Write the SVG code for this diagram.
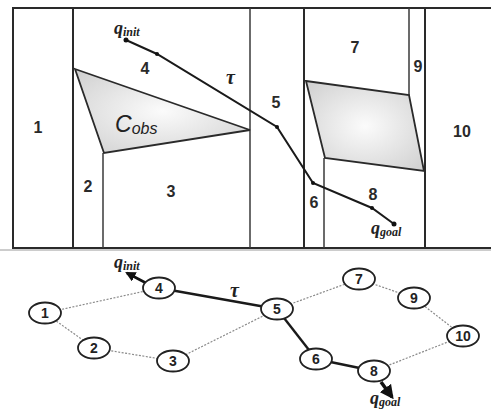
<svg xmlns="http://www.w3.org/2000/svg" width="491" height="410" viewBox="0 0 491 410">
  <defs>
    <style>
      .wall { stroke: #2a2a2a; stroke-width: 2; fill: none; }
      .thin { stroke: #3a3a3a; stroke-width: 1.5; fill: none; }
      .obst { fill: url(#shade); stroke: #2a2a2a; stroke-width: 1.8; }
      .lbl { font-family: "Liberation Sans", Arial, sans-serif; font-size: 16px; font-weight: bold; fill: #2a2a2a; text-anchor: middle; }
      .nlbl { font-family: "Liberation Sans", Arial, sans-serif; font-size: 14px; font-weight: bold; fill: #222; text-anchor: middle; }
      .q { font-family: "Liberation Serif", "Times New Roman", serif; font-style: italic; font-weight: bold; fill: #222; }
      .path { stroke: #1a1a1a; stroke-width: 2; fill: none; }
      .dot { fill: #111; }
      .node ellipse { fill: #fff; stroke: #222; stroke-width: 1.8; }
      .dotted { stroke: #8a8a8a; stroke-width: 1.2; stroke-dasharray: 2 1.5; fill: none; }
      .solid { stroke: #1a1a1a; stroke-width: 2.4; fill: none; }
    </style>
    <radialGradient id="shade" cx="0.5" cy="0.5" r="0.65">
      <stop offset="0" stop-color="#fbfbfb"/>
      <stop offset="1" stop-color="#d2d2d2"/>
    </radialGradient>
    <marker id="tip" viewBox="0 0 10 10" refX="8" refY="5" markerWidth="4" markerHeight="4" orient="auto">
      <path d="M0,0 L10,5 L0,10 z" fill="#111"/>
    </marker>
  </defs>

  <!-- configuration space with cell decomposition -->
  <g id="workspace">
    <path class="wall" d="M491,8 L13,8 L13,248 L491,248"/>
    <line class="wall" x1="73" y1="8" x2="73" y2="248"/>
    <line class="thin" x1="103" y1="153" x2="103" y2="248"/>
    <line class="thin" x1="250" y1="8" x2="250" y2="248"/>
    <line class="wall" x1="304" y1="8" x2="304" y2="248"/>
    <line class="thin" x1="324" y1="158" x2="324" y2="248"/>
    <line class="thin" x1="409" y1="8" x2="409" y2="95"/>
    <line class="wall" x1="425" y1="8" x2="425" y2="248" stroke-width="2.6"/>

    <polygon class="obst" points="75,69 250,130 104,153"/>
    <polygon class="obst" points="306,81 409,95 424,171 325,158"/>

    <text class="lbl" x="38" y="133">1</text>
    <text class="lbl" x="88" y="192">2</text>
    <text class="lbl" x="171" y="197">3</text>
    <text class="lbl" x="145" y="74">4</text>
    <text class="lbl" x="276" y="108">5</text>
    <text class="lbl" x="314" y="208">6</text>
    <text class="lbl" x="355" y="53">7</text>
    <text class="lbl" x="373" y="200">8</text>
    <text class="lbl" x="418" y="72">9</text>
    <text class="lbl" x="462" y="137">10</text>

    <text x="115" y="132" font-family="Liberation Sans, Arial, sans-serif" font-style="italic" font-size="23" fill="#222">C<tspan font-size="16" dy="2">obs</tspan></text>
    <text class="q" x="226" y="84" font-size="20">τ</text>
    <text class="q" x="114" y="34" font-size="18">q<tspan font-size="12" dy="2">init</tspan></text>
    <text class="q" x="371" y="234" font-size="18">q<tspan font-size="12" dy="2">goal</tspan></text>
  </g>

  <!-- solution path through the free cells -->
  <g id="path">
    <polyline class="path" points="126,40 157,54 277,127 313,183 372,208 394,224"/>
    <circle class="dot" cx="126" cy="40" r="2.5"/>
    <circle class="dot" cx="157" cy="54" r="2"/>
    <circle class="dot" cx="277" cy="127" r="2"/>
    <circle class="dot" cx="313" cy="183" r="2"/>
    <circle class="dot" cx="372" cy="208" r="2"/>
    <circle class="dot" cx="394" cy="224" r="2.5"/>
  </g>

  <line x1="0" y1="250" x2="491" y2="250" stroke="#9a9a9a" stroke-width="1"/>

  <!-- connectivity graph edges -->
  <g id="edges">
    <line class="dotted" x1="45" y1="313" x2="159" y2="288"/>
    <line class="dotted" x1="45" y1="313" x2="94" y2="348"/>
    <line class="dotted" x1="94" y1="348" x2="173" y2="361"/>
    <line class="dotted" x1="173" y1="361" x2="277" y2="309"/>
    <line class="dotted" x1="277" y1="309" x2="359" y2="279"/>
    <line class="dotted" x1="359" y1="279" x2="414" y2="298"/>
    <line class="dotted" x1="414" y1="298" x2="463" y2="336"/>
    <line class="dotted" x1="463" y1="336" x2="374" y2="371"/>
    <line class="solid" x1="159" y1="288" x2="277" y2="309"/>
    <line class="solid" x1="277" y1="309" x2="316" y2="359"/>
    <line class="solid" x1="316" y1="359" x2="374" y2="371"/>
    <line stroke="#111" stroke-width="2.6" x1="146" y1="283" x2="127" y2="273" marker-end="url(#tip)"/>
    <line stroke="#111" stroke-width="3.5" x1="381" y1="382" x2="392" y2="397" marker-end="url(#tip)"/>
  </g>

  <g id="n1" class="node"><ellipse cx="45" cy="313" rx="16" ry="10.5"/><text class="nlbl" x="45" y="318">1</text></g>
  <g id="n2" class="node"><ellipse cx="94" cy="348" rx="16" ry="10.5"/><text class="nlbl" x="94" y="353">2</text></g>
  <g id="n3" class="node"><ellipse cx="173" cy="361" rx="16" ry="10.5"/><text class="nlbl" x="173" y="366">3</text></g>
  <g id="n4" class="node"><ellipse cx="159" cy="288" rx="16" ry="10.5"/><text class="nlbl" x="159" y="293">4</text></g>
  <g id="n5" class="node"><ellipse cx="277" cy="309" rx="16" ry="10.5"/><text class="nlbl" x="277" y="314">5</text></g>
  <g id="n6" class="node"><ellipse cx="316" cy="359" rx="16" ry="10.5"/><text class="nlbl" x="316" y="364">6</text></g>
  <g id="n7" class="node"><ellipse cx="359" cy="279" rx="16" ry="10.5"/><text class="nlbl" x="359" y="284">7</text></g>
  <g id="n8" class="node"><ellipse cx="374" cy="371" rx="16" ry="10.5"/><text class="nlbl" x="374" y="376">8</text></g>
  <g id="n9" class="node"><ellipse cx="414" cy="298" rx="16" ry="10.5"/><text class="nlbl" x="414" y="303">9</text></g>
  <g id="n10" class="node"><ellipse cx="463" cy="336" rx="16" ry="10.5"/><text class="nlbl" x="463" y="341">10</text></g>

  <g id="graph-labels">
    <text class="q" x="114" y="268" font-size="18">q<tspan font-size="12" dy="2">init</tspan></text>
    <text class="q" x="230" y="297" font-size="20">τ</text>
    <text class="q" x="370" y="404" font-size="18">q<tspan font-size="12" dy="2">goal</tspan></text>
  </g>
</svg>
